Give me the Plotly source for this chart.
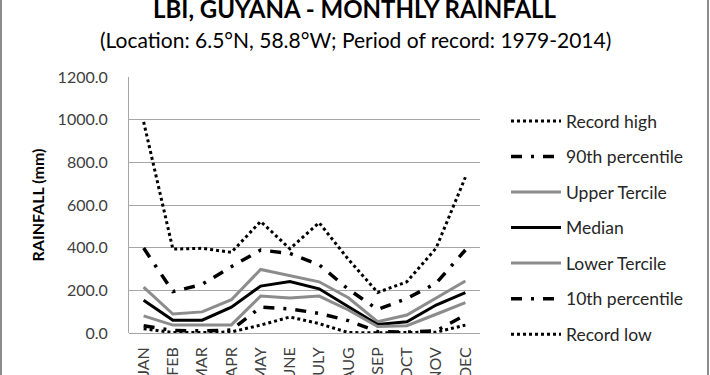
import plotly.graph_objects as go

months = ["JAN", "FEB", "MAR", "APR", "MAY", "JUNE", "JULY", "AUG", "SEP", "OCT", "NOV", "DEC"]

record_high = [990, 393, 397, 378, 523, 395, 517, 345, 190, 240, 398, 730]
p90 = [398, 194, 228, 311, 389, 373, 320, 205, 110, 162, 233, 389]
upper_tercile = [215, 89, 99, 156, 298, 270, 240, 165, 53, 84, 165, 244]
median = [153, 60, 60, 121, 220, 241, 207, 124, 40, 53, 131, 189]
lower_tercile = [80, 37, 37, 38, 173, 164, 173, 108, 30, 34, 88, 142]
p10 = [34, 12, 10, 14, 121, 113, 92, 58, 6, 4, 10, 84]
record_low = [20, 2, 2, 5, 37, 75, 44, 2, 1, 1, 4, 37]

series = [
    ("Record high", record_high, "black", "dot", 3),
    ("90th percentile", p90, "black", "11px,9px,3px,9px", 3.5),
    ("Upper Tercile", upper_tercile, "#8c8c8c", "solid", 3),
    ("Median", median, "black", "solid", 3),
    ("Lower Tercile", lower_tercile, "#8c8c8c", "solid", 3),
    ("10th percentile", p10, "black", "11px,9px,3px,9px", 3.5),
    ("Record low", record_low, "black", "dot", 3),
]

FONT = "Lato"
TXT = "#404040"

fig = go.Figure()
for i, (name, vals, col, dash, w) in enumerate(series):
    fig.add_trace(go.Scatter(
        x=months, y=vals, name=name, mode="lines",
        line=dict(color=col, dash=dash, width=w),
        legendgroup=f"g{i}",
    ))

L, R, T, B = 129, 230, 77, 42
W, H = 710, 375
pw = W - L - R
ph = H - T - B

def px_x(px):
    return (px - L) / pw

def px_y(py):
    return (H - B - py) / ph

fig.update_layout(
    width=W, height=H,
    margin=dict(l=L, r=R, t=T, b=B, pad=0, autoexpand=False),
    paper_bgcolor="white", plot_bgcolor="white",
    font=dict(family=FONT, size=16, color=TXT),
    showlegend=True,
    legend=dict(
        x=px_x(506), y=px_y(103), xanchor="left", yanchor="top",
        font=dict(family=FONT, size=17.5, color="#262626"),
        tracegroupgap=9.8, itemwidth=50,
        bgcolor="rgba(0,0,0,0)",
    ),
    xaxis=dict(
        type="category", range=[-0.5, 11.5], automargin=False,
        tickangle=-90, showgrid=False, showline=False, ticks="",
        ticklabelstandoff=10,
        tickfont=dict(family=FONT, size=16, color=TXT),
        fixedrange=True,
    ),
    yaxis=dict(
        range=[0, 1200], dtick=200, tickformat=".1f", automargin=False,
        showgrid=True, gridcolor="#a6a6a6", gridwidth=1,
        showline=True, linecolor="#a6a6a6", linewidth=1,
        zeroline=True, zerolinecolor="#a6a6a6", zerolinewidth=1,
        ticks="", ticklabelstandoff=17,
        tickfont=dict(family=FONT, size=16, color=TXT),
        title=dict(text="<b>RAINFALL (mm)</b>", font=dict(family=FONT, size=16, color="black"), standoff=9),
        fixedrange=True,
    ),
    annotations=[
        dict(text="<b>LBI, GUYANA - MONTHLY RAINFALL</b>", xref="paper", yref="paper",
             x=px_x(355), y=px_y(8), xanchor="center", yanchor="middle", showarrow=False,
             font=dict(family=FONT, size=24, color="black")),
        dict(text="(Location: 6.5°N, 58.8°W; Period of record: 1979-2014)", xref="paper", yref="paper",
             x=px_x(355), y=px_y(39), xanchor="center", yanchor="middle", showarrow=False,
             font=dict(family=FONT, size=21, color="black")),
    ],
    shapes=[
        dict(type="line", xref="paper", yref="paper", x0=px_x(1), x1=px_x(1), y0=px_y(0), y1=px_y(H),
             line=dict(color="#8c8c8c", width=2)),
        dict(type="line", xref="paper", yref="paper", x0=px_x(708), x1=px_x(708), y0=px_y(0), y1=px_y(H),
             line=dict(color="#8c8c8c", width=2)),
    ],
)

fig.write_html(
    "out.html",
    config={"displayModeBar": False, "staticPlot": False},
    post_script="document.body.style.margin='0';document.body.style.overflow='hidden';",
)
